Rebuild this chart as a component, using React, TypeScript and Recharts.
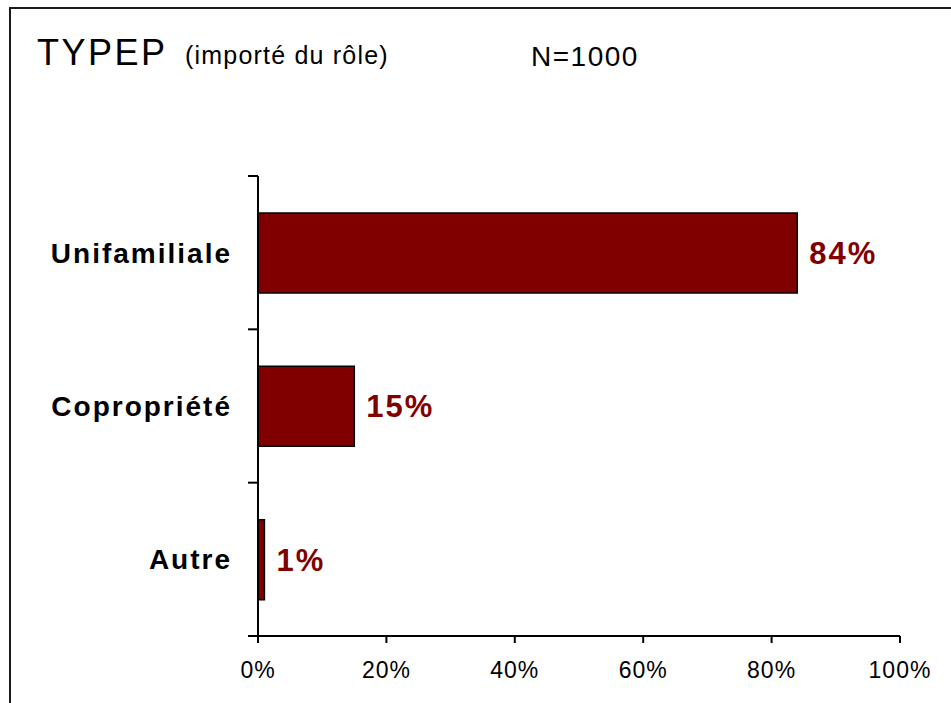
import React from 'react';
import { BarChart, Bar, XAxis, YAxis, LabelList } from 'recharts';

const categories = ['Unifamiliale', 'Copropriété', 'Autre'];
const shares = [84, 15, 1];
const xTicks = [0, 20, 40, 60, 80, 100];

const title = 'TYPEP';
const subtitle = '(importé du rôle)';
const sampleSize = 'N=1000';

const FONT = '"Liberation Sans", Arial, Helvetica, sans-serif';
const MAROON = '#800000';

const PLOT_HEIGHT = 460;

const data = categories.map((name, i) => ({ name, value: shares[i] }));

// category label plus tick marks on the band edges (not the centres)
const CategoryTick = (props: any) => {
  const { x, y, payload, index } = props;
  const half = payload && payload.offset ? payload.offset : PLOT_HEIGHT / categories.length / 2;
  const axisX = x + 26;
  return (
    <g>
      {index === 0 && (
        <line x1={axisX - 10} x2={axisX} y1={y - half} y2={y - half} stroke="#000" strokeWidth={2} />
      )}
      <line x1={axisX - 10} x2={axisX} y1={y + half} y2={y + half} stroke="#000" strokeWidth={2} />
      <text
        x={x}
        y={y}
        dy="0.355em"
        textAnchor="end"
        fontFamily={FONT}
        fontSize={28}
        fontWeight="bold"
        letterSpacing={2}
        fill="#000"
      >
        {payload.value}
      </text>
    </g>
  );
};

const App: React.FC = () => {
  return (
    <div style={{ position: 'absolute', left: 0, top: 0, width: 951, height: 703, overflow: 'hidden', background: '#fff' }}>
      <div
        style={{
          position: 'absolute',
          left: 9,
          top: 7,
          width: 1200,
          height: 1000,
          border: '2px solid #1a1a1a',
        }}
      />
      <svg width={951} height={703} style={{ position: 'absolute', left: 0, top: 0 }}>
        <text x={37} y={65} fontFamily={FONT} fontSize={36} letterSpacing={2.5} fill="#000">
          {title}
        </text>
        <text x={185} y={64} fontFamily={FONT} fontSize={25} letterSpacing={1.2} fill="#000">
          {subtitle}
        </text>
        <text x={531} y={66} fontFamily={FONT} fontSize={28} letterSpacing={1.5} fill="#000">
          {sampleSize}
        </text>
      </svg>
      <div style={{ position: 'absolute', left: 0, top: 0 }}>
        <BarChart
          width={951}
          height={703}
          data={data}
          layout="vertical"
          margin={{ top: 176, right: 51, bottom: 27, left: 10 }}
          barSize={80}
        >
          <XAxis
            type="number"
            domain={[0, 100]}
            ticks={xTicks}
            allowDataOverflow
            height={40}
            tickFormatter={(v: number) => `${v}%`}
            tickSize={7}
            tickMargin={19}
            axisLine={{ stroke: '#000', strokeWidth: 2 }}
            tickLine={{ stroke: '#000', strokeWidth: 2 }}
            tick={{ fill: '#000', fontSize: 23, fontFamily: FONT, letterSpacing: 1 }}
          />
          <YAxis
            type="category"
            dataKey="name"
            width={248}
            tickSize={10}
            tickMargin={16}
            tickLine={false}
            axisLine={{ stroke: '#000', strokeWidth: 2 }}
            tick={<CategoryTick />}
          />
          <Bar
            dataKey="value"
            fill={MAROON}
            stroke="#000"
            strokeWidth={1.5}
            isAnimationActive={false}
          >
            <LabelList
              dataKey="value"
              position="right"
              offset={12}
              formatter={(v: any) => `${v}%`}
              fill={MAROON}
              fontSize={31}
              fontWeight="bold"
              fontFamily={FONT}
              letterSpacing={2}
            />
          </Bar>
        </BarChart>
      </div>
    </div>
  );
};

export default App;
